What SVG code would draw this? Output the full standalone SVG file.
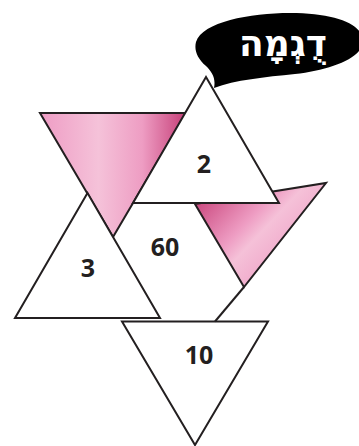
<svg xmlns="http://www.w3.org/2000/svg" width="359" height="446" viewBox="0 0 359 446">
<style>
.tri{stroke:#231f20;stroke-width:2;stroke-linejoin:miter}
.w{fill:#ffffff}
.num{font-family:"Open Sans","Noto Sans","DejaVu Sans",sans-serif;font-weight:bold;font-size:25px;fill:#231f20;text-anchor:middle}
.conn{stroke:#231f20;stroke-width:2;fill:none}
</style>
<defs>
<linearGradient id="g1" x1="40" y1="0" x2="186" y2="0" gradientUnits="userSpaceOnUse">
<stop offset="0" stop-color="#ee9cc4"/>
<stop offset="0.4" stop-color="#f5c2d9"/>
<stop offset="0.7" stop-color="#ee9dc3"/>
<stop offset="1" stop-color="#c63f78"/>
</linearGradient>
<linearGradient id="g2" x1="200" y1="195" x2="285" y2="275" gradientUnits="userSpaceOnUse">
<stop offset="0" stop-color="#c9457c"/>
<stop offset="0.45" stop-color="#ee9dc3"/>
<stop offset="0.6" stop-color="#f5c1d8"/>
<stop offset="1" stop-color="#ee9fc5"/>
</linearGradient>
</defs>
<g id="pink-top">
<polygon class="tri" fill="url(#g1)" points="40,113 186,113 113,237"/>
</g>
<g id="pink-right">
<polygon class="tri" fill="url(#g2)" points="195,204 326,183 244,287"/>
</g>
<g id="tri-3">
<polygon class="tri w" points="87.5,193 160,318 15,318"/>
<text class="num" x="88" y="277">3</text>
</g>
<g id="tri-2">
<polygon class="tri w" points="206,77 279,203 133,203"/>
<text class="num" x="204" y="173">2</text>
</g>
<g id="tri-10">
<polygon class="tri w" points="122,321.5 268,321.5 195,445"/>
<text class="num" x="199" y="364">10</text>
</g>
<g id="center-60">
<text class="num" x="165" y="256">60</text>
</g>
<g id="connectors">
<line class="conn" x1="244" y1="287" x2="215" y2="321.5"/>
</g>
<g id="bubble">
<path fill="#000000" d="M 214,88 C 216,78 212,72 206,66 C 197,58 194,50 196,42 C 202,22 250,13 290,13 C 335,13 362,24 363,40 C 364,58 330,70 295,74 C 265,77 235,80 214,88 Z"/>
<text x="283" y="56" font-family="DejaVu Sans, Noto Sans, sans-serif" font-weight="bold" font-size="36" fill="#ffffff" text-anchor="middle">דֻגְמָה</text>
</g>
</svg>
